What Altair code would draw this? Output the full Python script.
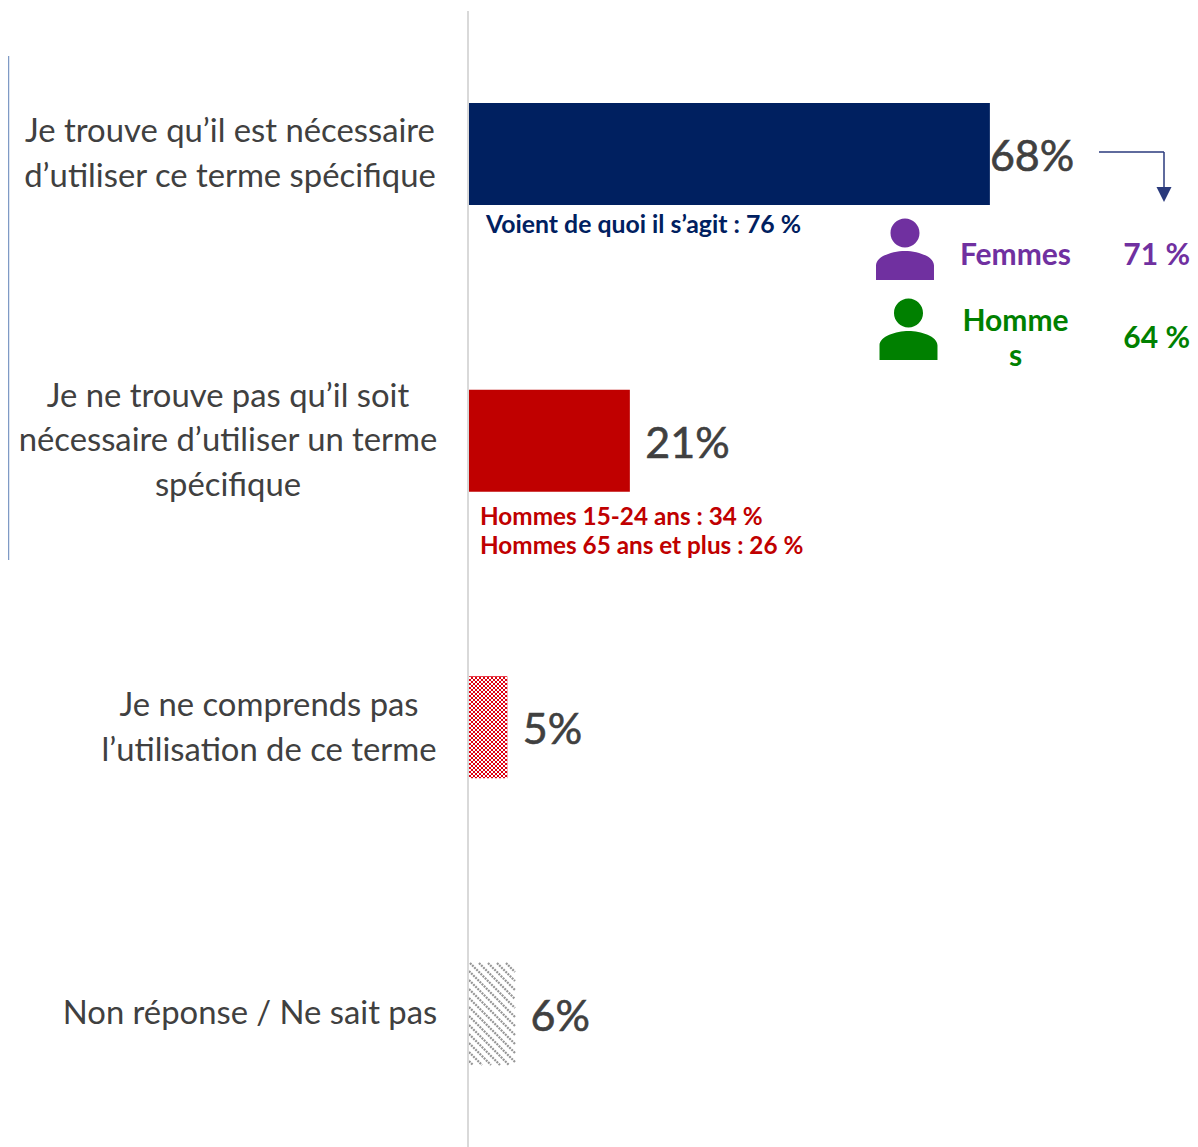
import altair as alt
import pandas as pd

# --- values
categories = [
    "Je trouve qu’il est nécessaire\nd’utiliser ce terme spécifique",
    "Je ne trouve pas qu’il soit\nnécessaire d’utiliser un terme\nspécifique",
    "Je ne comprends pas\nl’utilisation de ce terme",
    "Non réponse / Ne sait pas",
]
values = [68, 21, 5, 6]
value_labels = ["68%", "21%", "5%", "6%"]
note_navy = "Voient de quoi il s’agit : 76 %"
notes_red = ["Hommes 15-24 ans : 34 %", "Hommes 65 ans et plus : 26 %"]
women = ["Femmes", "71 %"]
men = ["Homme", "s", "64 %"]

FONT = "Lato"
NAVY, RED, PURPLE, GREEN = "#002060", "#c00000", "#7030a0", "#008000"
GREY_TXT = "#404040"
W, H = 1182, 1139
OFF = 8


def p(v):
    return v - OFF


PX_PER = 7.66
xs = alt.Scale(domain=[-p(469) / PX_PER, (W - p(469)) / PX_PER], range=[0, W])
ys = alt.Scale(domain=categories, range=[p(10.7), p(1157.3)], paddingInner=0.644, paddingOuter=0.322)

df = pd.DataFrame({"cat": categories, "value": values, "label": value_labels})
fills = alt.Scale(domain=categories, range=[NAVY, RED, "#dc0010", "#ffffff"])

bars = alt.Chart(df).mark_bar().encode(
    x=alt.X("value:Q", scale=xs, axis=None),
    y=alt.Y("cat:N", scale=ys, axis=None, sort=categories),
    fill=alt.Fill("cat:N", scale=fills, legend=None),
)

# texture of the two patterned bars
cell = 2
cells = []
for i in range(19):
    for j in range(51):
        if (i + j) % 2 == 0:
            x0 = p(469) + i * cell
            y0 = p(676) + 1 + j * cell
            cells.append({"x0": x0, "x1": x0 + cell, "y0": y0, "y1": y0 + cell})
checker = alt.Chart(pd.DataFrame(cells)).mark_rect(color="#ffffff", opacity=1).encode(
    x=alt.X("x0:Q", scale=None, axis=None), x2="x1:Q",
    y=alt.Y("y0:Q", scale=None, axis=None), y2="y1:Q",
)

bx0, bx1, by0, by1 = p(469), p(515), p(963), p(1065)
segs = []
c = by0 - (bx1 - bx0)
while c < by1:
    xa = bx0
    ya = c
    if ya < by0:
        xa = bx0 + (by0 - ya)
        ya = by0
    xb = bx1
    yb = c + (bx1 - bx0)
    if yb > by1:
        xb = bx1 - (yb - by1)
        yb = by1
    segs.append({"x0": xa, "x1": xb, "y0": ya, "y1": yb})
    c += 9
hatch = alt.Chart(pd.DataFrame(segs)).mark_rule(color="#969696", strokeWidth=2.2, strokeDash=[2, 1]).encode(
    x=alt.X("x0:Q", scale=None, axis=None), x2="x1:Q",
    y=alt.Y("y0:Q", scale=None, axis=None), y2="y1:Q",
)


# vertical baseline and left edge line
def rule(x0, y0, x1, y1, color, width):
    return alt.Chart(pd.DataFrame({"a": [0]})).mark_rule(color=color, strokeWidth=width).encode(
        x=alt.value(p(x0)), x2=alt.value(p(x1)), y=alt.value(p(y0)), y2=alt.value(p(y1))
    )


baseline = rule(468, 11, 468, 1147, "#d9d9d9", 2)
left_line = rule(8.5, 56, 8.5, 560, "#7f9ac5", 1.5)


# category labels, centred blocks
def cat_label(i, xc, dy):
    return alt.Chart(df.iloc[[i]]).mark_text(
        font=FONT, fontSize=32.8, color=GREY_TXT, align="center", baseline="middle",
        lineBreak="\n", lineHeight=44.5, dy=dy,
    ).encode(x=alt.value(p(xc)), y=alt.Y("cat:N", scale=ys, axis=None, sort=categories), text="cat:N")


cat_labels = [cat_label(0, 230, -22), cat_label(1, 228, -44), cat_label(2, 269, -21), cat_label(3, 250, 0)]


# value labels
def val_label(frame, dx):
    return alt.Chart(frame).mark_text(
        font=FONT, fontSize=43, color=GREY_TXT, align="left", baseline="middle", dx=dx, dy=4,
        stroke=GREY_TXT, strokeWidth=0.6,
    ).encode(
        x=alt.X("value:Q", scale=xs, axis=None),
        y=alt.Y("cat:N", scale=ys, axis=None, sort=categories),
        text="label:N",
    )


val_layers = [val_label(df.iloc[[0]], 0), val_label(df.iloc[[1, 2, 3]], 15.5)]


# free annotations
def note(t, x, y, color, align="left", size=24.3, weight=700):
    return alt.Chart(pd.DataFrame({"t": [t]})).mark_text(
        font=FONT, fontSize=size, fontWeight=weight, color=color, align=align, baseline="middle",
    ).encode(x=alt.value(p(x)), y=alt.value(p(y)), text="t:N")


notes = [
    note(note_navy, 486, 225.5, NAVY, size=24.8),
    note(notes_red[0], 480, 517.5, RED),
    note(notes_red[1], 480, 546.5, RED),
    note(women[0], 1015.5, 256, PURPLE, "center", 30),
    note(women[1], 1190, 256, PURPLE, "right", 30),
    note(men[0], 1015.5, 322, GREEN, "center", 30),
    note(men[1], 1015.5, 357, GREEN, "center", 30),
    note(men[2], 1190, 339, GREEN, "right", 30),
]

PERSON = (
    "M-0.468 -0.548 A0.468 0.468 0 1 1 0.468 -0.548 A0.468 0.468 0 1 1 -0.468 -0.548 Z "
    "M-0.935 0.97 L-0.935 0.5 C-0.935 0.2 -0.4 0.03 0 0.03 C0.4 0.03 0.935 0.2 0.935 0.5 L0.935 0.97 Z"
)
ARROW = "M-1 -1 L1 -1 L0 1 Z"


def symbol(path, x, y, size, color):
    return alt.Chart(pd.DataFrame({"a": [0]})).mark_point(
        shape=path, filled=True, size=size, color=color, opacity=1, strokeWidth=0,
    ).encode(x=alt.value(p(x)), y=alt.value(p(y)))


icons = [
    symbol(PERSON, 905, 250, 62 ** 2, PURPLE),
    symbol(PERSON, 908.5, 330, 62 ** 2, GREEN),
    symbol(ARROW, 1164, 194.5, 15 ** 2, "#2a3a7c"),
]
arrow = [rule(1099, 152, 1164, 152, "#2a3a7c", 1.5), rule(1164, 152, 1164, 188, "#2a3a7c", 1.5)]

chart = alt.layer(
    bars, checker, hatch, baseline, left_line, *cat_labels, *val_layers, *notes, *arrow, *icons
).resolve_scale(x="independent", y="independent", fill="independent").properties(
    width=W, height=H, padding=0, autosize=alt.AutoSizeParams(type="none"), background="#ffffff",
).configure_view(stroke=None)

chart.save("out.html", embed_options={"renderer": "svg", "actions": False})
